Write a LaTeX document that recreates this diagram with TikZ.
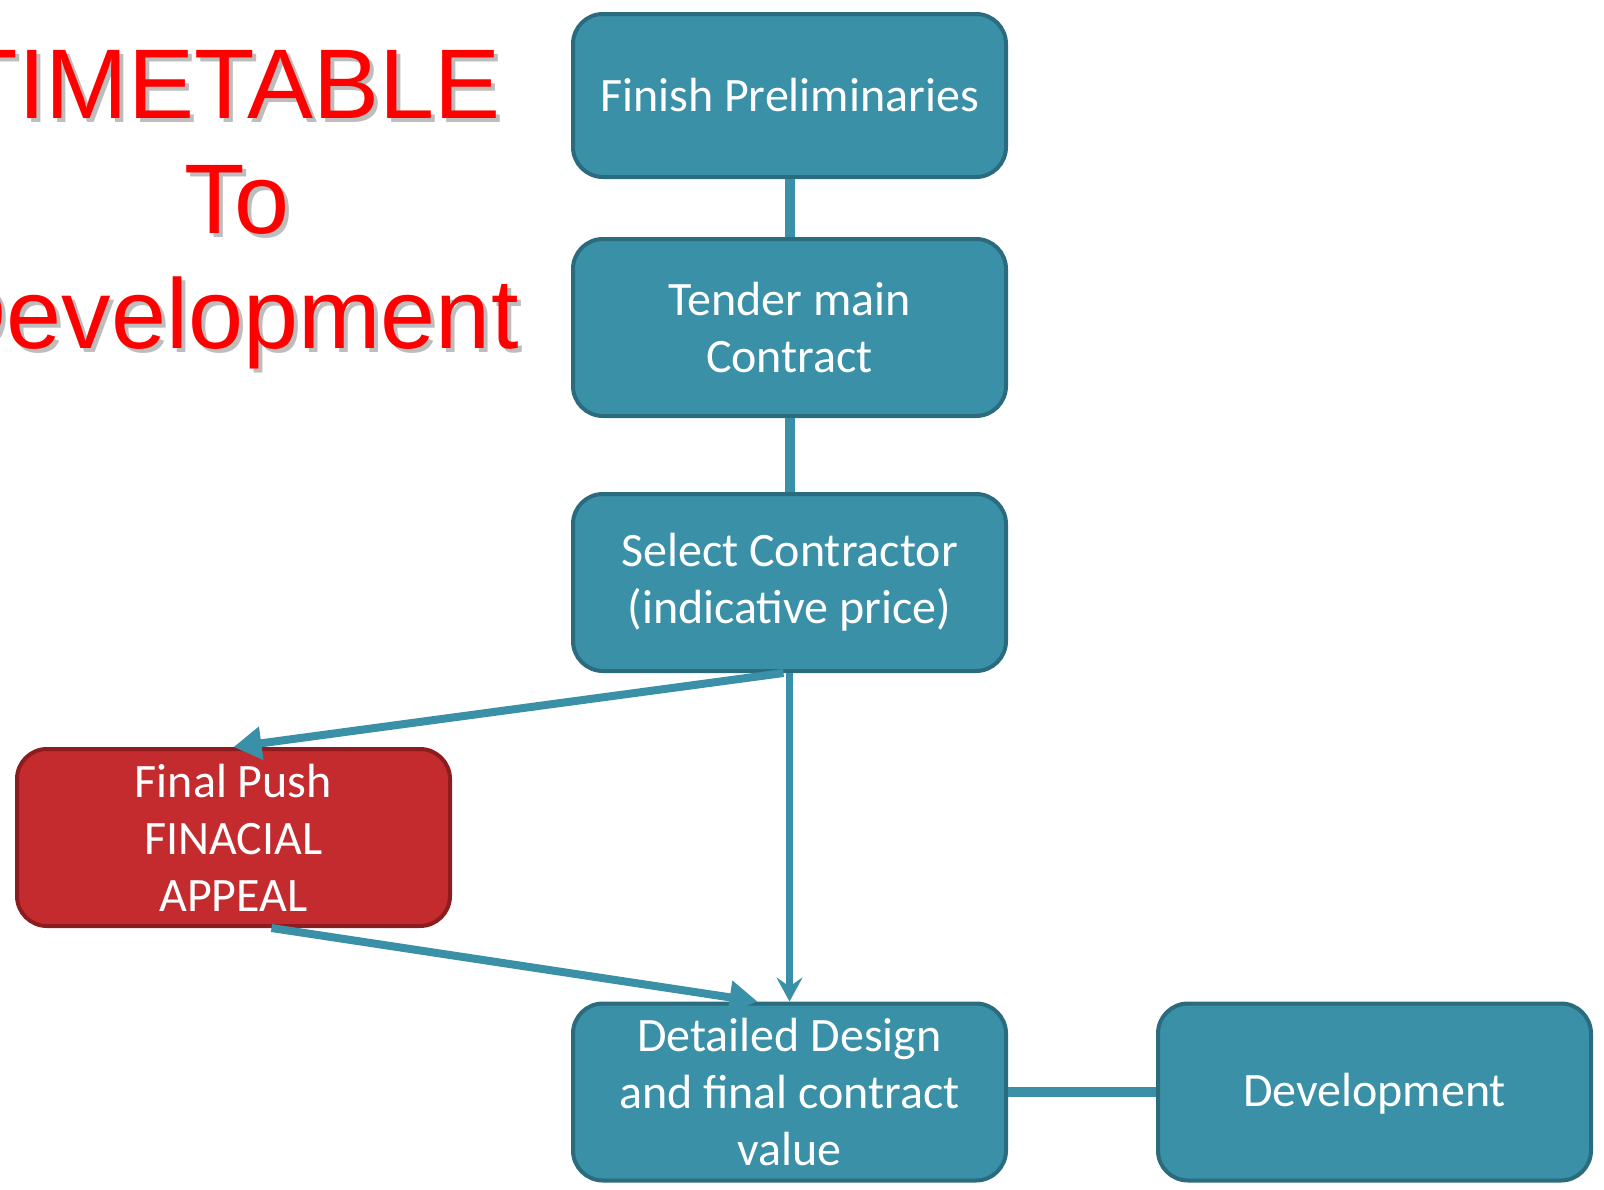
\documentclass[tikz,border=0pt]{standalone}
\usepackage{fontspec}
\setmainfont{Liberation Sans}
\newfontfamily\boxfont{Carlito}
\usetikzlibrary{arrows.meta,positioning}
\definecolor{stagefill}{HTML}{3A90A7}
\definecolor{stageedge}{HTML}{2A6B7D}
\definecolor{pushfill}{HTML}{C32B2E}
\definecolor{pushedge}{HTML}{8C1C1F}
\definecolor{titlered}{HTML}{FF0000}
\definecolor{titleshade}{HTML}{BDBDBD}
\tikzset{
  stage/.style={draw=stageedge, fill=stagefill, line width=4pt, rounded corners=30pt,
    minimum width=433pt, minimum height=177pt, inner sep=0pt, align=center,
    text=white, font=\boxfont\fontsize{48}{57}\selectfont},
  alert/.style={stage, draw=pushedge, fill=pushfill},
  joinline/.style={draw=stagefill, line width=10pt},
  leadarrow/.style={draw=stagefill, line width=8pt, -{Triangle[length=28pt,width=32pt]}},
  droparrow/.style={draw=stagefill, line width=7pt, -{Stealth[length=24pt,width=26pt,inset=9pt]}},
  headline/.style={anchor=base, inner sep=0pt, font=\fontsize{99}{115}\selectfont}
}
\begin{document}
\begin{tikzpicture}[x=1pt,y=-1pt]
    \useasboundingbox (0,0) rectangle (1604,1189);
    % title with its shadow
    \foreach \word/\xpos/\ypos in {TIMETABLE/229/118, To/237/233, Development/227/348} {
      \node [headline, text=titleshade] at (\xpos+4,\ypos+4) {\word};
      \node [headline, text=titlered] (title\word) at (\xpos,\ypos) {\word};
    }
    % stages
    \node [stage, minimum height=163pt] (finish) at (789.5,95.5) {Finish Preliminaries};
    \node [stage] (tender) at (789.5,327.5) {Tender main\\Contract};
    \node [stage] (select) at (789.5,582.5) {Select Contractor\\(indicative price)};
    \node [alert] (push) at (233.5,837.5) {Final Push\\FINACIAL\\APPEAL};
    \node [stage] (detail) at (789.5,1092) {Detailed Design\\and final contract\\value};
    \node [stage, text depth=4pt] (develop) at (1374.5,1092) {Development};
    % connectors
    \draw [joinline] (finish) -- (tender);
    \draw [joinline] (tender) -- (select);
    \draw [joinline] (detail) -- (develop);
    \draw [droparrow] (select.south) -- (detail.north);
    \draw [leadarrow] ([xshift=-6pt]select.south) -- (push.north);
    \draw [leadarrow] ([xshift=38pt]push.south) -- ([xshift=-32pt]detail.north);
\end{tikzpicture}
\end{document}
